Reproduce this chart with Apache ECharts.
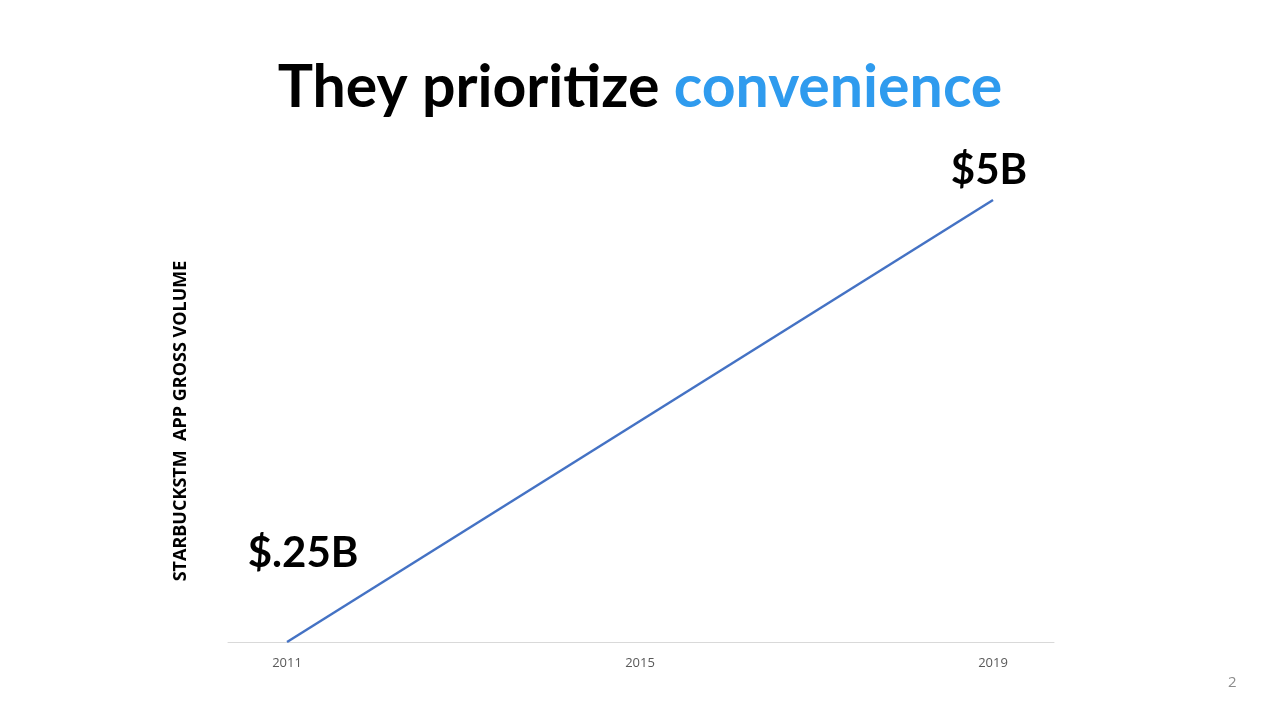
<!DOCTYPE html>
<html>
<head>
<meta charset="utf-8">
<script src="https://cdn.jsdelivr.net/npm/echarts@6/dist/echarts.min.js"></script>
<style>
html,body{margin:0;padding:0;background:#fff;}
#c{width:1280px;height:720px;}
</style>
</head>
<body>
<div id="c"></div>
<script>
const years = [2011, 2019];
const values = [0.25, 5];
const valueLabels = ['$.25B', '$5B'];
const tickLabels = [2011, 2015, 2019];

const chart = echarts.init(document.getElementById('c'));
const FONT = 'Lato, "Open Sans", sans-serif';
const labelShift = [[16, -89], [-4, -30]];
chart.setOption({
  backgroundColor: '#ffffff',
  animation: false,
  title: {
    text: '{a|They prioritize }{b|convenience}',
    left: 'center',
    top: 53,
    textStyle: {
      rich: {
        a: {fontFamily: FONT, fontWeight: 'bold', fontSize: 59, color: '#000000'},
        b: {fontFamily: FONT, fontWeight: 'bold', fontSize: 59, color: '#2f9bee'}
      }
    }
  },
  grid: {left: 228, right: 226, top: 200, bottom: 78},
  xAxis: {
    type: 'value',
    min: 2010.331,
    max: 2019.691,
    splitLine: {show: false},
    axisTick: {show: false},
    axisLine: {show: true, lineStyle: {color: '#d9d9d9', width: 1}},
    axisLabel: {
      customValues: tickLabels,
      color: '#595959',
      fontSize: 13,
      fontFamily: '"Open Sans", sans-serif',
      margin: 15,
      formatter: v => String(v)
    }
  },
  yAxis: {
    type: 'value',
    min: 0.25,
    max: 5,
    name: 'STARBUCKSTM  APP GROSS VOLUME',
    nameLocation: 'middle',
    nameRotate: 90,
    nameGap: 38,
    nameTextStyle: {fontFamily: '"Open Sans", sans-serif', fontWeight: 'bold', fontSize: 18, color: '#000'},
    axisLine: {show: false},
    axisTick: {show: false},
    axisLabel: {show: false},
    splitLine: {show: false}
  },
  series: [{
    type: 'line',
    symbol: 'circle',
    symbolSize: 0,
    showSymbol: true,
    lineStyle: {color: '#4472c4', width: 2.5},
    itemStyle: {color: '#4472c4'},
    label: {
      show: true,
      position: 'inside',
      fontFamily: FONT,
      fontWeight: 'bold',
      fontSize: 42,
      color: '#000',
      formatter: p => valueLabels[p.dataIndex]
    },
    labelLayout: function (params) {
      const s = labelShift[params.dataIndex] || [0, 0];
      return {dx: s[0], dy: s[1]};
    },
    data: years.map((y, i) => [y, values[i]])
  }],
  graphic: [{
    type: 'text',
    left: 1228,
    top: 675,
    style: {text: '2', fontFamily: '"Open Sans", sans-serif', fontSize: 15, fill: '#8c8c8c'}
  }]
});
</script>
</body>
</html>
